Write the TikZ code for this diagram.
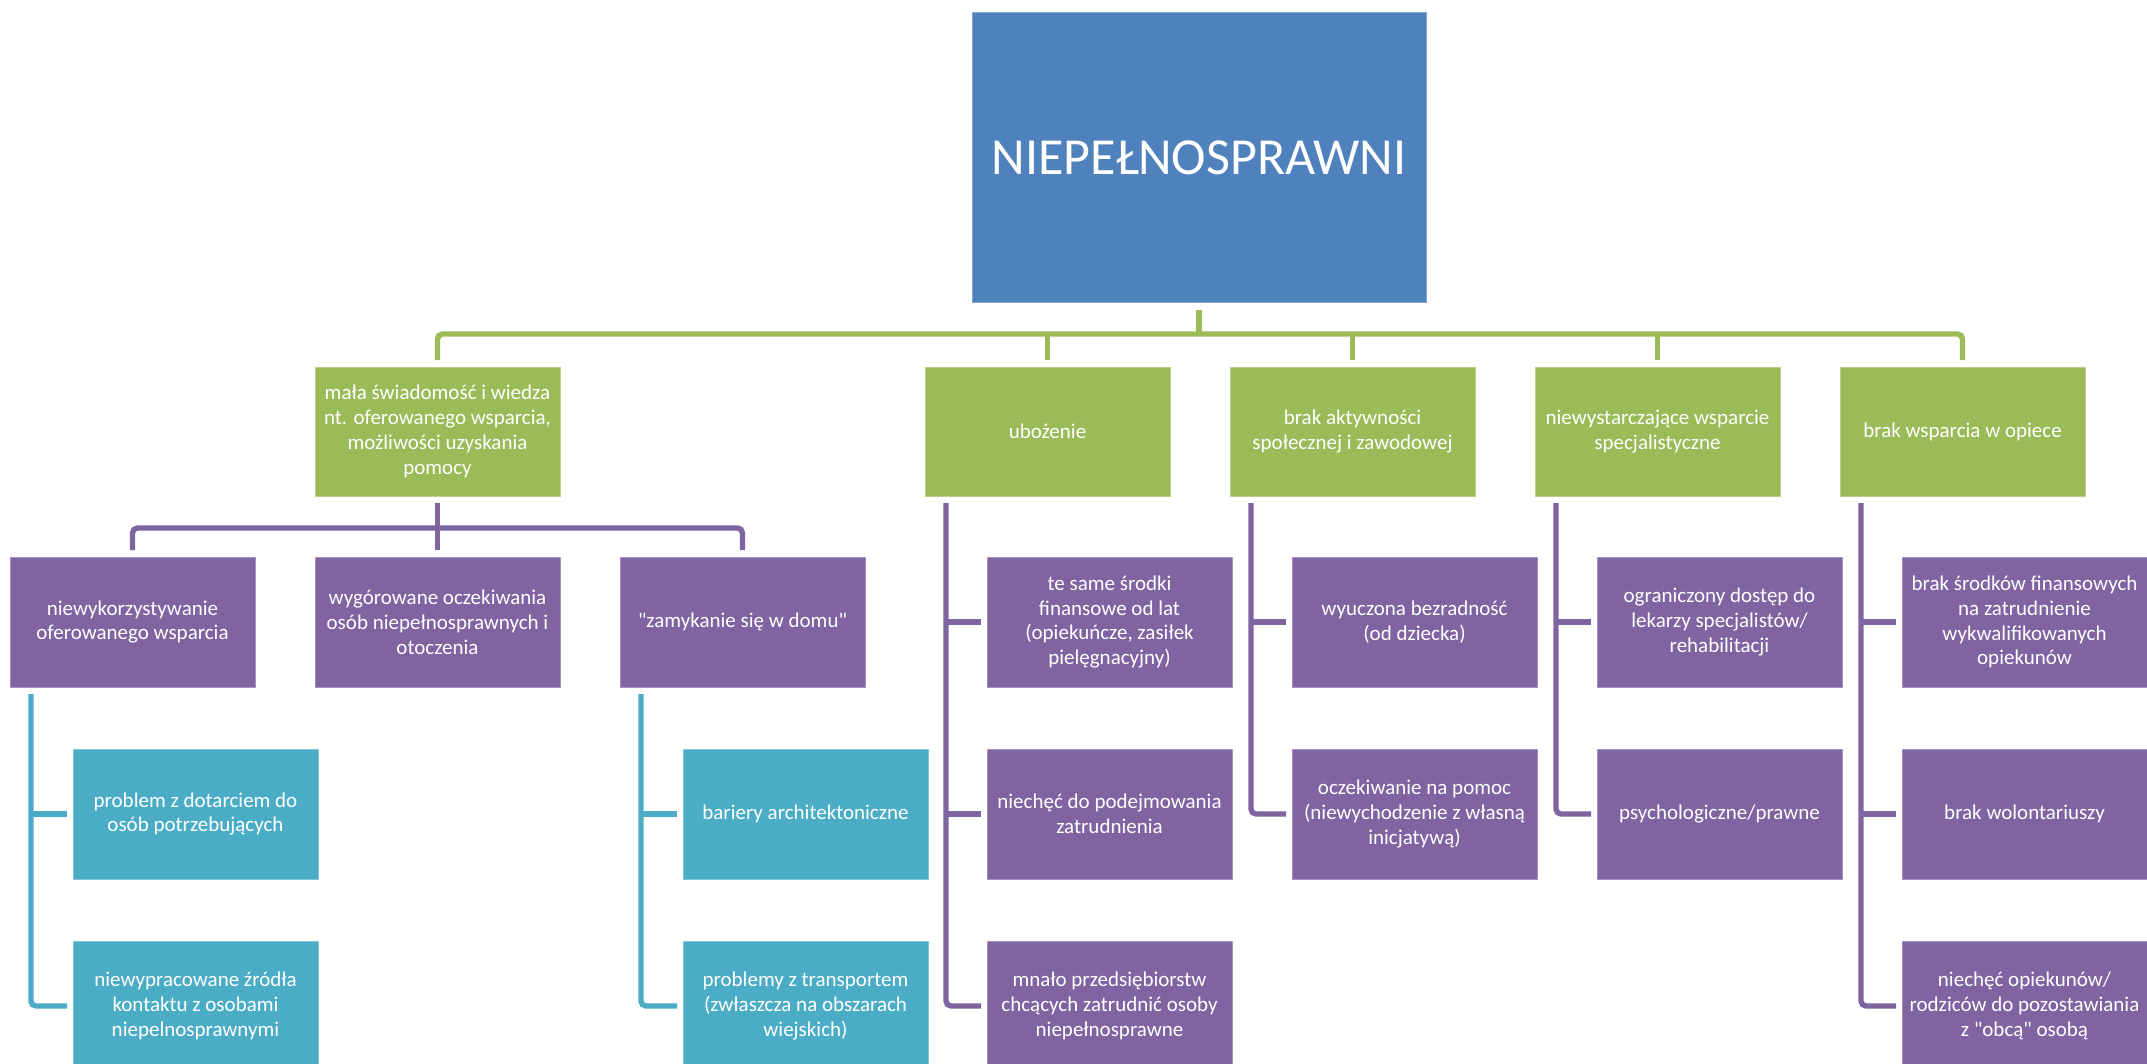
\documentclass[tikz,border=0pt]{standalone}
\usepackage{fontspec}
\setmainfont{Carlito}
\definecolor{cblue}{HTML}{4F81BD}
\definecolor{cgreen}{HTML}{9BBB59}
\definecolor{cpurple}{HTML}{8064A2}
\definecolor{ccyan}{HTML}{4BACC6}
\begin{document}
\begin{tikzpicture}[x=0.5pt,y=-0.5pt,
  box/.style={inner sep=0pt, outer sep=0pt, minimum width=122.5pt, minimum height=65pt,
    fill=#1, draw=#1!70!white, line width=0.5pt, text=white, align=center,
    font=\fontsize{10.5}{12.4}\selectfont},
  conn/.style={line width=2.7pt, draw=#1, rounded corners=2.5pt}]
\useasboundingbox (0,0) rectangle (2147,1064);

% root
\node[box=cblue, minimum width=227pt, minimum height=145pt, font=\fontsize{26}{30}\selectfont] (root) at (1199,158) {NIEPEŁNOSPRAWNI};

% green level
\node[box=cgreen, minimum height=64.5pt] (g1) at (437.5,431.5) {mała świadomość i wiedza\\nt. oferowanego wsparcia,\\możliwości uzyskania\\pomocy};
\node[box=cgreen, minimum height=64.5pt] (g2) at (1047.5,431.5) {ubożenie};
\node[box=cgreen, minimum height=64.5pt] (g3) at (1352.5,431.5) {brak aktywności\\społecznej i zawodowej};
\node[box=cgreen, minimum height=64.5pt] (g4) at (1657.5,431.5) {niewystarczające wsparcie\\specjalistyczne};
\node[box=cgreen, minimum height=64.5pt] (g5) at (1962.5,431.5) {brak wsparcia w opiece};

% purple level under g1
\node[box=cpurple] (p1) at (132.5,622) {niewykorzystywanie\\oferowanego wsparcia};
\node[box=cpurple] (p2) at (437.5,622) {wygórowane oczekiwania\\osób niepełnosprawnych i\\otoczenia};
\node[box=cpurple] (p3) at (742.5,622) {\textquotedbl zamykanie się w domu\textquotedbl};

% cyan under p1, p3
\node[box=ccyan] (c1) at (195.5,814) {problem z dotarciem do\\osób potrzebujących};
\node[box=ccyan] (c2) at (195.5,1006) {niewypracowane źródła\\kontaktu z osobami\\niepelnosprawnymi};
\node[box=ccyan] (c3) at (805.5,814) {bariery architektoniczne};
\node[box=ccyan] (c4) at (805.5,1006) {problemy z  transportem\\(zwłaszcza na obszarach\\wiejskich)};

% under g2
\node[box=cpurple] (u1) at (1109.5,622) {te same środki\\finansowe od lat\\(opiekuńcze, zasiłek\\pielęgnacyjny)};
\node[box=cpurple] (u2) at (1109.5,814) {niechęć do podejmowania\\zatrudnienia};
\node[box=cpurple] (u3) at (1109.5,1006) {mnało przedsiębiorstw\\chcących zatrudnić osoby\\niepełnosprawne};

% under g3
\node[box=cpurple] (a1) at (1414.5,622) {wyuczona bezradność\\(od dziecka)};
\node[box=cpurple] (a2) at (1414.5,814) {oczekiwanie na pomoc\\(niewychodzenie z własną\\inicjatywą)};

% under g4
\node[box=cpurple] (s1) at (1719.5,622) {ograniczony dostęp do\\lekarzy specjalistów/\\rehabilitacji};
\node[box=cpurple] (s2) at (1719.5,814) {psychologiczne/prawne};

% under g5
\node[box=cpurple] (o1) at (2024.5,622) {brak środków finansowych\\na zatrudnienie\\wykwalifikowanych\\opiekunów};
\node[box=cpurple] (o2) at (2024.5,814) {brak wolontariuszy};
\node[box=cpurple] (o3) at (2024.5,1006) {niechęć opiekunów/\\rodziców do pozostawiania\\z \textquotedbl obcą\textquotedbl{} osobą};

% green connectors
\coordinate (gbar) at (1199,334);
\draw[conn=cgreen] ([yshift=-3.5pt]root.south) -- (root.south |- gbar);
\draw[conn=cgreen] ([yshift=3.5pt]g1.north) -- (g1.north |- gbar) -- (g5.north |- gbar) -- ([yshift=3.5pt]g5.north);
\foreach \n in {g2,g3,g4} \draw[conn=cgreen] (\n.north |- gbar) -- ([yshift=3.5pt]\n.north);

% purple bar under g1
\coordinate (pbar) at (437.5,528);
\draw[conn=cpurple] ([yshift=-3.5pt]g1.south) -- (g1.south |- pbar);
\draw[conn=cpurple] ([yshift=3.5pt]p1.north) -- (p1.north |- pbar) -- (p3.north |- pbar) -- ([yshift=3.5pt]p3.north);
\draw[conn=cpurple] (p2.north |- pbar) -- ([yshift=3.5pt]p2.north);

% hanging connectors
\coordinate (lp1) at ([xshift=10.5pt,yshift=-3.5pt]p1.south west);
\coordinate (lp3) at ([xshift=10.5pt,yshift=-3.5pt]p3.south west);
\coordinate (lg2) at ([xshift=10.5pt,yshift=-3.5pt]g2.south west);
\coordinate (lg3) at ([xshift=10.5pt,yshift=-3.5pt]g3.south west);
\coordinate (lg4) at ([xshift=10.5pt,yshift=-3.5pt]g4.south west);
\coordinate (lg5) at ([xshift=10.5pt,yshift=-3.5pt]g5.south west);

\draw[conn=ccyan] (lp1) |- ([xshift=-3pt]c2.west);
\draw[conn=ccyan] (lp1 |- c1.west) -- ([xshift=-3pt]c1.west);
\draw[conn=ccyan] (lp3) |- ([xshift=-3pt]c4.west);
\draw[conn=ccyan] (lp3 |- c3.west) -- ([xshift=-3pt]c3.west);

\draw[conn=cpurple] (lg2) |- ([xshift=-3pt]u3.west);
\foreach \n in {u1,u2} \draw[conn=cpurple] (lg2 |- \n.west) -- ([xshift=-3pt]\n.west);
\draw[conn=cpurple] (lg3) |- ([xshift=-3pt]a2.west);
\draw[conn=cpurple] (lg3 |- a1.west) -- ([xshift=-3pt]a1.west);
\draw[conn=cpurple] (lg4) |- ([xshift=-3pt]s2.west);
\draw[conn=cpurple] (lg4 |- s1.west) -- ([xshift=-3pt]s1.west);
\draw[conn=cpurple] (lg5) |- ([xshift=-3pt]o3.west);
\foreach \n in {o1,o2} \draw[conn=cpurple] (lg5 |- \n.west) -- ([xshift=-3pt]\n.west);
\end{tikzpicture}
\end{document}
